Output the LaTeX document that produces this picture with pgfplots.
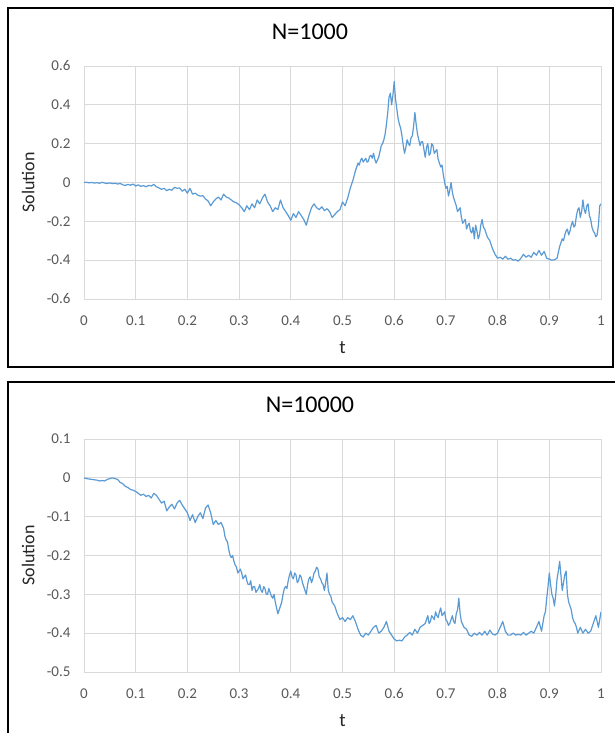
\documentclass[border=0pt]{standalone}
\usepackage{pgfplots}
\pgfplotsset{compat=1.18}
\usepackage{pgfplotstable}
\usepackage{fontspec}
\setmainfont{Carlito}
\definecolor{tickgray}{HTML}{595959}
\definecolor{gridgray}{HTML}{D9D9D9}
\definecolor{lineblue}{HTML}{5B9BD5}
\definecolor{labelgray}{HTML}{262626}

\pgfplotstableread{
t v
0 0
0.005 0.001
0.01 -0.002
0.015 0.000
0.02 -0.003
0.025 -0.001
0.03 -0.004
0.035 0.001
0.04 -0.003
0.045 -0.005
0.05 -0.002
0.055 -0.006
0.06 -0.004
0.065 -0.008
0.07 -0.005
0.075 -0.012
0.08 -0.015
0.085 -0.010
0.09 -0.014
0.095 -0.008
0.1 -0.018
0.105 -0.012
0.11 -0.020
0.115 -0.016
0.12 -0.022
0.125 -0.015
0.13 -0.018
0.135 -0.010
0.14 -0.022
0.145 -0.028
0.15 -0.035
0.155 -0.030
0.16 -0.042
0.165 -0.035
0.17 -0.040
0.175 -0.025
0.18 -0.030
0.185 -0.028
0.19 -0.045
0.195 -0.035
0.2 -0.055
0.205 -0.030
0.21 -0.060
0.215 -0.055
0.22 -0.065
0.225 -0.070
0.23 -0.068
0.235 -0.085
0.24 -0.095
0.245 -0.120
0.25 -0.100
0.255 -0.085
0.26 -0.075
0.265 -0.090
0.27 -0.060
0.275 -0.075
0.28 -0.080
0.285 -0.090
0.29 -0.100
0.295 -0.105
0.3 -0.115
0.305 -0.130
0.31 -0.150
0.315 -0.120
0.32 -0.140
0.325 -0.110
0.33 -0.130
0.335 -0.090
0.34 -0.110
0.345 -0.080
0.35 -0.060
0.355 -0.100
0.36 -0.120
0.365 -0.150
0.37 -0.130
0.375 -0.140
0.38 -0.090
0.385 -0.130
0.39 -0.150
0.395 -0.170
0.4 -0.195
0.405 -0.160
0.41 -0.180
0.415 -0.150
0.42 -0.170
0.425 -0.190
0.43 -0.220
0.435 -0.170
0.44 -0.130
0.445 -0.110
0.45 -0.130
0.455 -0.140
0.46 -0.125
0.465 -0.145
0.47 -0.135
0.475 -0.150
0.48 -0.180
0.485 -0.165
0.49 -0.150
0.495 -0.140
0.5 -0.100
0.505 -0.120
0.51 -0.080
0.515 -0.030
0.52 0.010
0.525 0.060
0.53 0.100
0.5325 0.090
0.535 0.115
0.5375 0.125
0.54 0.105
0.5425 0.115
0.545 0.125
0.5475 0.105
0.55 0.110
0.5525 0.135
0.555 0.140
0.5575 0.125
0.56 0.150
0.5625 0.120
0.565 0.100
0.5675 0.115
0.57 0.130
0.5725 0.160
0.575 0.190
0.5775 0.200
0.58 0.220
0.5825 0.250
0.585 0.300
0.5875 0.360
0.59 0.440
0.5925 0.460
0.595 0.400
0.5975 0.450
0.6 0.520
0.6025 0.430
0.605 0.380
0.6075 0.330
0.61 0.300
0.6125 0.280
0.615 0.240
0.6175 0.190
0.62 0.150
0.6225 0.180
0.625 0.220
0.6275 0.200
0.63 0.190
0.6325 0.230
0.635 0.240
0.6375 0.290
0.64 0.360
0.6425 0.300
0.645 0.250
0.6475 0.220
0.65 0.190
0.6525 0.210
0.655 0.210
0.6575 0.170
0.66 0.130
0.6625 0.180
0.665 0.200
0.6675 0.140
0.67 0.150
0.6725 0.200
0.675 0.190
0.6775 0.150
0.68 0.160
0.6825 0.170
0.685 0.120
0.6875 0.100
0.69 0.080
0.6925 0.090
0.695 0.040
0.6975 0.000
0.7 -0.030
0.7025 -0.020
0.705 -0.070
0.7075 -0.040
0.71 0.000
0.7125 -0.050
0.715 -0.080
0.7175 -0.100
0.72 -0.120
0.7225 -0.150
0.725 -0.140
0.7275 -0.130
0.73 -0.180
0.7325 -0.210
0.735 -0.200
0.7375 -0.190
0.74 -0.240
0.7425 -0.220
0.745 -0.210
0.7475 -0.250
0.75 -0.260
0.7525 -0.230
0.755 -0.290
0.7575 -0.220
0.76 -0.250
0.7625 -0.290
0.765 -0.270
0.7675 -0.220
0.77 -0.190
0.7725 -0.230
0.775 -0.240
0.7775 -0.260
0.78 -0.280
0.7825 -0.290
0.785 -0.300
0.7875 -0.320
0.79 -0.340
0.795 -0.370
0.8 -0.390
0.805 -0.385
0.81 -0.395
0.815 -0.380
0.82 -0.395
0.825 -0.390
0.83 -0.400
0.835 -0.398
0.84 -0.405
0.845 -0.390
0.85 -0.370
0.855 -0.385
0.86 -0.375
0.865 -0.385
0.87 -0.360
0.875 -0.375
0.88 -0.350
0.885 -0.375
0.89 -0.355
0.895 -0.390
0.9 -0.395
0.905 -0.400
0.91 -0.398
0.915 -0.390
0.92 -0.330
0.9225 -0.310
0.925 -0.290
0.9275 -0.300
0.93 -0.270
0.9325 -0.250
0.935 -0.240
0.9375 -0.270
0.94 -0.250
0.9425 -0.220
0.945 -0.200
0.9475 -0.230
0.95 -0.220
0.9525 -0.170
0.955 -0.140
0.9575 -0.130
0.96 -0.180
0.9625 -0.150
0.965 -0.090
0.9675 -0.140
0.97 -0.160
0.9725 -0.120
0.975 -0.110
0.9775 -0.170
0.98 -0.190
0.9825 -0.230
0.985 -0.250
0.9875 -0.260
0.99 -0.280
0.9925 -0.270
0.995 -0.220
0.9975 -0.120
1.0 -0.110
}\dataA

\pgfplotstableread{
t v
0 0
0.005 -0.002
0.01 -0.003
0.015 -0.004
0.02 -0.005
0.025 -0.006
0.03 -0.008
0.035 -0.007
0.04 -0.008
0.045 -0.004
0.05 -0.002
0.055 0.000
0.06 -0.002
0.065 -0.004
0.07 -0.012
0.075 -0.015
0.08 -0.022
0.085 -0.025
0.09 -0.030
0.095 -0.032
0.1 -0.035
0.105 -0.040
0.11 -0.045
0.115 -0.042
0.12 -0.048
0.125 -0.045
0.13 -0.052
0.135 -0.040
0.14 -0.045
0.145 -0.055
0.15 -0.065
0.155 -0.060
0.16 -0.085
0.165 -0.075
0.17 -0.068
0.175 -0.080
0.18 -0.065
0.185 -0.058
0.19 -0.070
0.195 -0.080
0.2 -0.090
0.205 -0.110
0.21 -0.095
0.215 -0.115
0.22 -0.100
0.225 -0.090
0.23 -0.105
0.235 -0.078
0.24 -0.070
0.245 -0.090
0.25 -0.120
0.255 -0.110
0.26 -0.120
0.265 -0.115
0.27 -0.130
0.2725 -0.150
0.275 -0.160
0.2775 -0.165
0.28 -0.185
0.2825 -0.200
0.285 -0.205
0.2875 -0.200
0.29 -0.215
0.2925 -0.225
0.295 -0.230
0.2975 -0.245
0.3 -0.240
0.3025 -0.235
0.305 -0.245
0.3075 -0.260
0.31 -0.255
0.3125 -0.250
0.315 -0.265
0.3175 -0.275
0.32 -0.275
0.3225 -0.265
0.325 -0.290
0.3275 -0.280
0.33 -0.280
0.3325 -0.295
0.335 -0.290
0.3375 -0.285
0.34 -0.275
0.3425 -0.290
0.345 -0.295
0.3475 -0.280
0.35 -0.285
0.3525 -0.300
0.355 -0.300
0.3575 -0.285
0.36 -0.295
0.3625 -0.305
0.365 -0.310
0.3675 -0.300
0.37 -0.320
0.3725 -0.335
0.375 -0.350
0.3775 -0.340
0.38 -0.330
0.3825 -0.320
0.385 -0.300
0.3875 -0.285
0.39 -0.280
0.3925 -0.285
0.395 -0.265
0.3975 -0.250
0.4 -0.240
0.4025 -0.255
0.405 -0.260
0.4075 -0.245
0.41 -0.250
0.4125 -0.270
0.415 -0.265
0.4175 -0.250
0.42 -0.255
0.4225 -0.270
0.425 -0.280
0.4275 -0.290
0.43 -0.300
0.4325 -0.275
0.435 -0.260
0.4375 -0.255
0.44 -0.270
0.4425 -0.260
0.445 -0.245
0.4475 -0.240
0.45 -0.230
0.4525 -0.235
0.455 -0.255
0.4575 -0.260
0.46 -0.270
0.4625 -0.275
0.465 -0.290
0.4675 -0.270
0.47 -0.245
0.4725 -0.290
0.475 -0.300
0.4775 -0.305
0.48 -0.320
0.485 -0.330
0.49 -0.350
0.495 -0.365
0.5 -0.360
0.505 -0.370
0.51 -0.360
0.515 -0.365
0.52 -0.355
0.525 -0.370
0.53 -0.390
0.535 -0.405
0.54 -0.410
0.545 -0.400
0.55 -0.405
0.555 -0.395
0.56 -0.385
0.565 -0.380
0.57 -0.400
0.575 -0.395
0.58 -0.385
0.585 -0.370
0.59 -0.395
0.595 -0.405
0.6 -0.415
0.605 -0.420
0.61 -0.418
0.615 -0.420
0.62 -0.410
0.625 -0.405
0.63 -0.398
0.635 -0.405
0.64 -0.390
0.645 -0.400
0.65 -0.385
0.655 -0.380
0.66 -0.375
0.6625 -0.365
0.665 -0.355
0.6675 -0.375
0.67 -0.370
0.6725 -0.355
0.675 -0.360
0.6775 -0.365
0.68 -0.345
0.6825 -0.355
0.685 -0.360
0.6875 -0.345
0.69 -0.335
0.6925 -0.355
0.695 -0.350
0.6975 -0.345
0.7 -0.365
0.7025 -0.370
0.705 -0.380
0.7075 -0.375
0.71 -0.365
0.7125 -0.355
0.715 -0.370
0.7175 -0.375
0.72 -0.350
0.7225 -0.340
0.725 -0.310
0.7275 -0.350
0.73 -0.370
0.735 -0.385
0.74 -0.390
0.745 -0.405
0.75 -0.408
0.755 -0.400
0.76 -0.405
0.765 -0.398
0.77 -0.405
0.775 -0.395
0.78 -0.405
0.785 -0.392
0.79 -0.402
0.795 -0.405
0.8 -0.400
0.805 -0.385
0.81 -0.370
0.815 -0.395
0.82 -0.405
0.825 -0.405
0.83 -0.400
0.835 -0.405
0.84 -0.403
0.845 -0.405
0.85 -0.398
0.855 -0.405
0.86 -0.400
0.865 -0.395
0.87 -0.400
0.875 -0.385
0.88 -0.370
0.885 -0.395
0.8875 -0.375
0.89 -0.355
0.8925 -0.345
0.895 -0.310
0.8975 -0.280
0.9 -0.245
0.9025 -0.275
0.905 -0.300
0.9075 -0.310
0.91 -0.330
0.9125 -0.300
0.915 -0.260
0.9175 -0.240
0.92 -0.215
0.9225 -0.250
0.925 -0.290
0.9275 -0.270
0.93 -0.250
0.9325 -0.240
0.935 -0.300
0.9375 -0.320
0.94 -0.330
0.9425 -0.340
0.945 -0.360
0.9475 -0.370
0.95 -0.375
0.9525 -0.385
0.955 -0.400
0.96 -0.385
0.965 -0.400
0.97 -0.390
0.975 -0.400
0.98 -0.395
0.985 -0.375
0.99 -0.355
0.995 -0.385
1.0 -0.345
}\dataB

\pgfplotsset{
  excel/.style={
    scale only axis, width=517pt, height=233pt,
    anchor=south west,
    xmin=0, xmax=1,
    xtick={0,0.1,0.2,0.3,0.4,0.5,0.6,0.7,0.8,0.9,1},
    grid=major,
    major grid style={draw=gridgray, line width=0.9pt},
    axis line style={draw=gridgray, line width=0.9pt},
    major tick length=0pt, tick style={draw=none},
    /pgf/number format/assume math mode=true,
    ticklabel style={font=\fontsize{15}{18}\selectfont, text=tickgray},
    xticklabel style={yshift=-13pt},
    yticklabel style={xshift=-10pt},
    xlabel={t}, ylabel={Solution},
    xlabel style={at={(axis description cs:0.5,-0.21)}, anchor=center,
      font=\fontsize{19}{22}\selectfont, text=labelgray},
    ylabel style={at={(axis description cs:-0.108,0.5)}, anchor=center,
      font=\fontsize{18}{22}\selectfont, text=labelgray},
    title style={at={(axis description cs:0.437,1.12)}, anchor=center,
      font=\fontsize{24}{28}\selectfont, text=black},
  }
}

\begin{document}
\begin{tikzpicture}
\useasboundingbox (0pt,0pt) rectangle (614pt,733pt);
\fill[white] (0pt,0pt) rectangle (614pt,733pt);
\draw[line width=2.5pt, black] (8pt,366pt) rectangle (613pt,725pt);
\draw[line width=2.5pt, black] (8pt,-10pt) rectangle (620pt,351pt);

\begin{axis}[excel, at={(84pt,434pt)},
  title={N=1000},
  ymin=-0.6, ymax=0.6,
  ytick={-0.6,-0.4,-0.2,0,0.2,0.4,0.6}]
\addplot[lineblue, line width=1.2pt, line join=round] table[x=t,y=v] {\dataA};
\end{axis}

\begin{axis}[excel, at={(84pt,61pt)},
  title={N=10000},
  ymin=-0.5, ymax=0.1,
  ytick={-0.5,-0.4,-0.3,-0.2,-0.1,0,0.1}]
\addplot[lineblue, line width=1.2pt, line join=round] table[x=t,y=v] {\dataB};
\end{axis}
\end{tikzpicture}
\end{document}
